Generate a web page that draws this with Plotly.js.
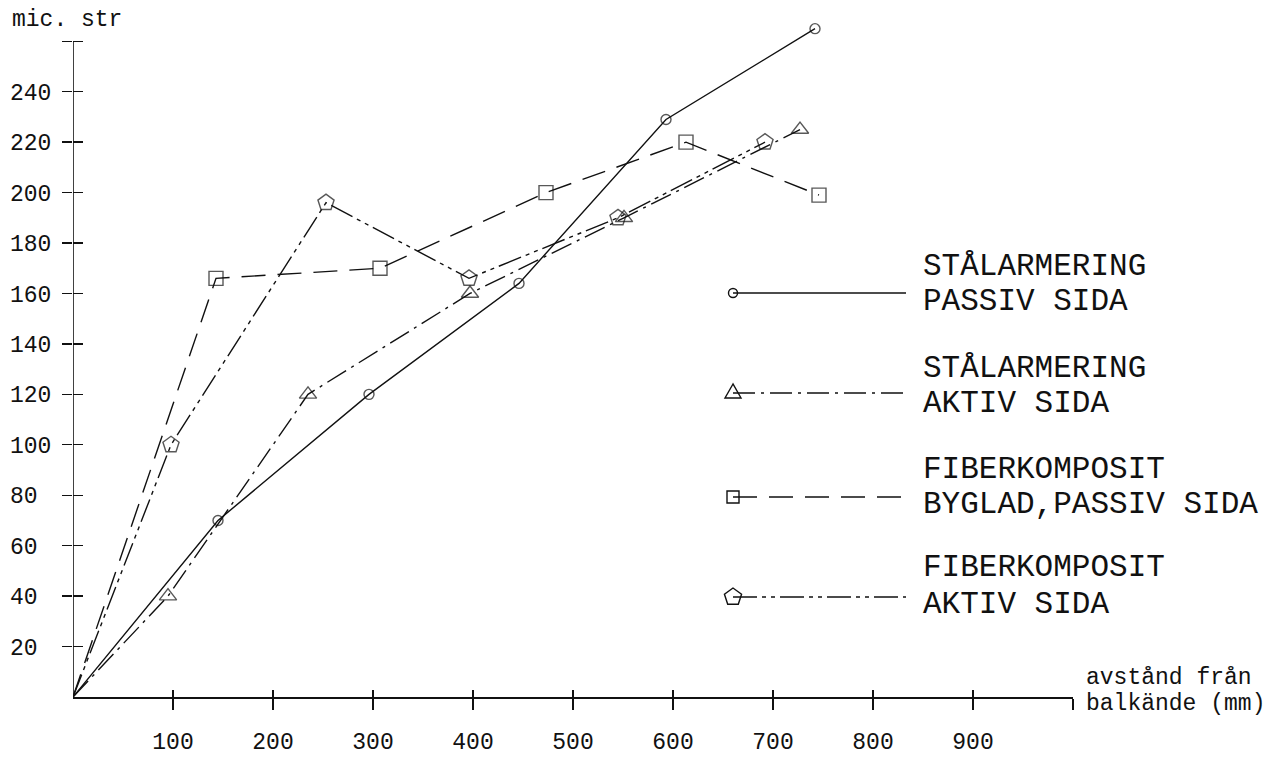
<!DOCTYPE html>
<html><head><meta charset="utf-8">
<script src="https://cdn.plot.ly/plotly-3.0.1.min.js"></script>
<style>html,body{margin:0;padding:0;background:#fff}</style>
</head><body>
<div id="chart" style="width:1287px;height:757px"></div>
<script>
// ---- data ----
const xStalPassiv = [0, 145, 296, 446, 593, 742];
const yStalPassiv = [0, 70, 120, 164, 229, 265];
const xStalAktiv  = [0, 95, 235, 397, 551, 727];
const yStalAktiv  = [0, 40, 120, 160, 190, 225];
const xFiberPassiv = [0, 143, 307, 473, 613, 746];
const yFiberPassiv = [0, 166, 170, 200, 220, 199];
const xFiberAktiv  = [0, 98, 253, 396, 545, 692];
const yFiberAktiv  = [0, 100, 196, 166, 190, 220];

const xTickVals = [100, 200, 300, 400, 500, 600, 700, 800, 900, 1000];
const xTickText = ['100','200','300','400','500','600','700','800','900',''];
const yTickVals = [20, 40, 60, 80, 100, 120, 140, 160, 180, 200, 220, 240, 260];
const yTickText = ['20','40','60','80','100','120','140','160','180','200','220','240',''];

const legendLabels = [
  ['STÅLARMERING', 'PASSIV SIDA'],
  ['STÅLARMERING', 'AKTIV SIDA'],
  ['FIBERKOMPOSIT', 'BYGLAD,PASSIV SIDA'],
  ['FIBERKOMPOSIT', 'AKTIV SIDA']
];
const yTitle = 'mic. str';
const xTitle = ['avstånd från', 'balkände (mm)'];

// ---- layout geometry ----
const W = 1287, H = 757, L = 73, R = 214, T = 20, B = 60;
const plotW = W - L - R, plotH = H - T - B;
const pxPerY = 2.522;
const yMax = plotH / pxPerY;
const px2x = px => (px - L) / plotW;
const px2y = py => (H - B - py) / plotH;

const INK = '#111';
const FONT = 'Liberation Mono, DejaVu Sans Mono, monospace';
const dashes = ['solid', '22px,6px,3px,6px', '24px,12px', '24px,5px,4px,5px,4px,5px'];
const symbols = ['circle-open', 'triangle-up-open', 'square-open', 'pentagon-open'];
const sizes = [10, 15, 14, 17];

const series = [
  [xStalPassiv, yStalPassiv],
  [xStalAktiv, yStalAktiv],
  [xFiberPassiv, yFiberPassiv],
  [xFiberAktiv, yFiberAktiv]
];

// no marker at the common origin point
const traces = series.map((s, i) => ({
  x: s[0], y: s[1], type: 'scatter', mode: 'lines+markers',
  name: legendLabels[i].join(' '),
  line: {color: INK, width: 1.4, dash: dashes[i]},
  marker: {symbol: symbols[i], size: s[0].map(v => (v === 0 ? 0 : sizes[i])), color: INK, line: {color: INK, width: 1.4}},
  cliponaxis: false, showlegend: false, hoverinfo: 'skip'
}));
// carrier for the overlay axes that draw the inner half of the crossing ticks
traces.push({x: [], y: [], xaxis: 'x2', yaxis: 'y2', type: 'scatter', mode: 'lines', showlegend: false, hoverinfo: 'skip'});

const tickFont = {family: FONT, size: 23, color: INK};

// legend geometry (pixels)
const legMarkerX = 733, legLineEnd = 906, legTextX = 921;
const legMarkerY = [293, 393, 497, 597];
const legText1Y = [266, 368, 469, 567];
const legText2Y = [301, 404, 505, 604];

const shapes = [];
// y axis line, up to the end cap
shapes.push({type: 'line', xref: 'x', yref: 'y', x0: 0, x1: 0, y0: 0, y1: 260, line: {color: INK, width: 1.6}});

function pentPath(r) {
  let p = '';
  for (let k = 0; k < 5; k++) {
    const a = Math.PI / 2 + k * 2 * Math.PI / 5;
    p += (k ? ' L' : 'M') + (r * Math.cos(a)).toFixed(2) + ',' + (r * Math.sin(a)).toFixed(2);
  }
  return p + ' Z';
}
const legPaths = [null, 'M0,9 L-8,-5 L8,-5 Z', 'M-6,-6 L6,-6 L6,6 L-6,6 Z', pentPath(9)];

const annotations = [];
for (let i = 0; i < 4; i++) {
  const my = px2y(legMarkerY[i]);
  shapes.push({type: 'line', xref: 'paper', yref: 'paper', x0: px2x(legMarkerX), x1: px2x(legLineEnd), y0: my, y1: my,
    line: {color: INK, width: 1.4, dash: dashes[i]}});
  const base = {xref: 'paper', yref: 'paper', xsizemode: 'pixel', ysizemode: 'pixel',
    xanchor: px2x(legMarkerX), yanchor: my, line: {color: INK, width: 1.4}, fillcolor: 'rgba(0,0,0,0)'};
  if (i === 0) shapes.push(Object.assign({type: 'circle', x0: -4.5, x1: 4.5, y0: -4.5, y1: 4.5}, base));
  else shapes.push(Object.assign({type: 'path', path: legPaths[i]}, base));
  annotations.push({xref: 'paper', yref: 'paper', x: px2x(legTextX), y: px2y(legText1Y[i]), xanchor: 'left', yanchor: 'middle',
    text: legendLabels[i][0], showarrow: false, font: {family: FONT, size: 31, color: INK}});
  annotations.push({xref: 'paper', yref: 'paper', x: px2x(legTextX), y: px2y(legText2Y[i]), xanchor: 'left', yanchor: 'middle',
    text: legendLabels[i][1], showarrow: false, font: {family: FONT, size: 31, color: INK}});
}
annotations.push({xref: 'paper', yref: 'paper', x: px2x(10), y: px2y(20), xanchor: 'left', yanchor: 'middle',
  text: yTitle, showarrow: false, font: tickFont});
annotations.push({xref: 'paper', yref: 'paper', x: px2x(1084), y: px2y(678), xanchor: 'left', yanchor: 'middle',
  text: xTitle[0], showarrow: false, font: tickFont});
annotations.push({xref: 'paper', yref: 'paper', x: px2x(1084), y: px2y(704), xanchor: 'left', yanchor: 'middle',
  text: xTitle[1], showarrow: false, font: tickFont});

const pad = t => (t.length === 2 ? t + '\u00a0' : t);

const layout = {
  width: W, height: H,
  margin: {l: L, r: R, t: T, b: B, pad: 0},
  paper_bgcolor: '#fff', plot_bgcolor: '#fff',
  showlegend: false,
  xaxis: {range: [0, 1000], showline: true, linecolor: INK, linewidth: 1.6, mirror: false,
    ticks: 'outside', ticklen: 11, tickwidth: 1.4, tickcolor: INK,
    tickmode: 'array', tickvals: xTickVals, ticktext: xTickText, tickfont: tickFont,
    ticklabelstandoff: 12, showgrid: false, zeroline: false, fixedrange: true},
  yaxis: {range: [0, yMax], showline: false,
    ticks: 'outside', ticklen: 10, tickwidth: 1.4, tickcolor: INK,
    tickmode: 'array', tickvals: yTickVals, ticktext: yTickText.map(pad), tickfont: tickFont,
    ticklabelstandoff: 6, showgrid: false, zeroline: false, fixedrange: true},
  xaxis2: {overlaying: 'x', anchor: 'y2', side: 'bottom', range: [0, 1000], showline: false,
    ticks: 'inside', ticklen: 7, tickwidth: 1.4, tickcolor: INK,
    tickmode: 'array', tickvals: xTickVals, showticklabels: false, showgrid: false, zeroline: false, fixedrange: true},
  yaxis2: {overlaying: 'y', anchor: 'x2', side: 'left', range: [0, yMax], showline: false,
    ticks: 'inside', ticklen: 10, tickwidth: 1.4, tickcolor: INK,
    tickmode: 'array', tickvals: yTickVals, showticklabels: false, showgrid: false, zeroline: false, fixedrange: true},
  shapes: shapes,
  annotations: annotations
};

Plotly.newPlot('chart', traces, layout, {displayModeBar: false, staticPlot: true});
</script>
</body></html>
